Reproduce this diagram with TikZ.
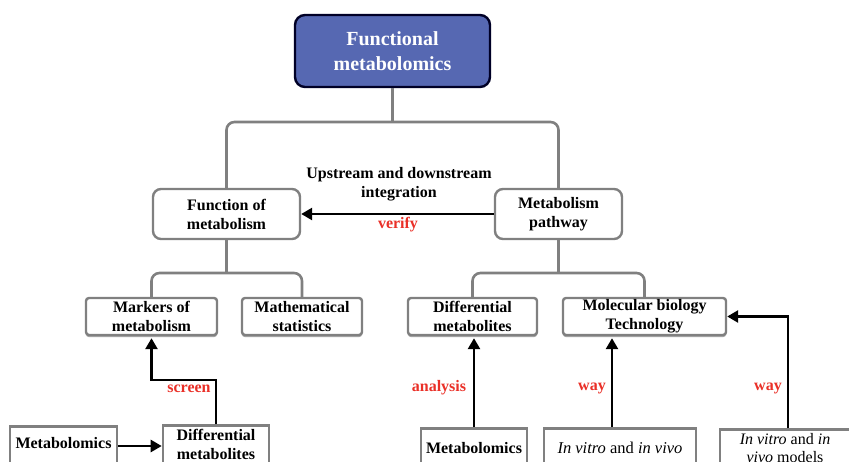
\documentclass[tikz,border=0pt]{standalone}
\usepackage{fontspec}
\setmainfont{Liberation Serif}
\usetikzlibrary{arrows.meta,calc,shadows}
\definecolor{titleblue}{RGB}{86,104,178}
\definecolor{boxgray}{RGB}{128,128,128}
\definecolor{labelred}{RGB}{234,48,40}
\begin{document}
\begin{tikzpicture}[x=1pt,y=-1pt,
 txt/.style={font=\fontsize{16}{19}\selectfont\bfseries, align=center},
 titlebox/.style={draw=black!85!blue, line width=2.4pt, fill=titleblue, rounded corners=10pt, text=white, font=\fontsize{20}{25}\selectfont\bfseries, align=center, minimum width=195pt, minimum height=72pt, inner sep=0pt},
 lvlone/.style={txt, draw=boxgray, line width=2.4pt, rounded corners=8pt, minimum height=50pt, inner sep=0pt},
 lvltwo/.style={txt, draw=boxgray, line width=2.4pt, rounded corners=3pt, minimum height=37pt, inner sep=0pt, fill=white,
   drop shadow={shadow xshift=0pt, shadow yshift=-2.2pt, fill=gray!70, opacity=1}},
 leaf/.style={draw=boxgray, line width=2.6pt, align=center, inner sep=0pt, anchor=north},
 tree/.style={draw=boxgray, line width=2.6pt, rounded corners=8pt},
 arr/.style={draw=black, line width=2.6pt, -{Triangle[length=11pt,width=12pt]}},
 lab/.style={text=labelred, font=\fontsize{16}{19}\selectfont\bfseries}
]
\path[use as bounding box] (0,0) rectangle (849,462);
\clip (0,0) rectangle (849,462);
\fill[white] (0,0) rectangle (849,462);

% nodes
\node[titlebox] (top) at (392.5,51) {Functional\\metabolomics};
\node[lvlone, minimum width=147pt] (fm) at (226.5,214) {Function of\\metabolism};
\node[lvlone, minimum width=127pt] (mp) at (558.5,214) {Metabolism\\pathway};
\node[lvltwo, minimum width=131pt] (mk) at (151.5,316.5) {Markers of\\metabolism};
\node[lvltwo, minimum width=120pt] (ms) at (302,316.5) {Mathematical\\statistics};
\node[lvltwo, minimum width=129pt] (dR) at (472.5,316.5) {Differential\\metabolites};
\node[lvltwo, minimum width=163pt] (mol) at (644.5,316.5) {Molecular biology\\Technology};

\node[leaf, txt, minimum width=107pt, text height=22pt, text depth=22pt] (mL) at (63.5,425) {Metabolomics};
\node[leaf, txt, minimum width=106pt, text height=34pt, text depth=12pt] (dL) at (216,424) {Differential\\metabolites};
\node[leaf, txt, minimum width=106pt, text height=25pt, text depth=20pt] (mR) at (474,427) {Metabolomics};
\node[leaf, minimum width=152pt, text height=25pt, text depth=20pt, font=\fontsize{16.5}{19}\selectfont] (iv) at (620,427) {\textit{In vitro} and \textit{in vivo}};
\node[leaf, minimum width=130pt, text height=33pt, text depth=14pt, font=\fontsize{16}{18}\selectfont] (md) at (785,428) {\textit{In vitro} and \textit{in}\\\textit{vivo} models};

% labels
\node[txt] (ud) at (399,184) {Upstream and downstream\\integration};
\node[lab] (vf) at (398,225) {verify};
\node[lab] (sc) at (189,389) {screen};
\node[lab] (an) at (439,388) {analysis};
\node[lab] (w1) at (592,388) {way};
\node[lab] (w2) at (768,388) {way};

% tree connectors
\coordinate (j1) at (392.5,122);
\coordinate (j2) at (226.5,273);
\coordinate (j3) at (558.5,273);
\draw[tree] (top.south) -- (j1);
\draw[tree] (fm.north) |- (j1) -| (mp.north);
\draw[tree] (fm.south) -- (j2);
\draw[tree] (mk.north) |- (j2) -| (ms.north);
\draw[tree] (mp.south) -- (j3);
\draw[tree] (dR.north) |- (j3) -| (mol.north);

% arrows
\draw[arr] (mp.west) -- (fm.east);
\draw[arr] (mL.mid east) -- (mL.mid east -| dL.west);
\coordinate (sbend) at (151.5,380);
\draw[arr] (dL.north) |- (sbend) -- ([yshift=-2pt]mk.south);
\draw[arr] (mR.north) -- ([yshift=-2pt]mR.north |- dR.south);
\coordinate (ivtop) at ([xshift=-8pt]iv.north);
\draw[arr] (ivtop) -- ([yshift=-2pt]ivtop |- mol.south);
\draw[arr] ([xshift=3pt]md.north) |- (mol.east);
\end{tikzpicture}
\end{document}
